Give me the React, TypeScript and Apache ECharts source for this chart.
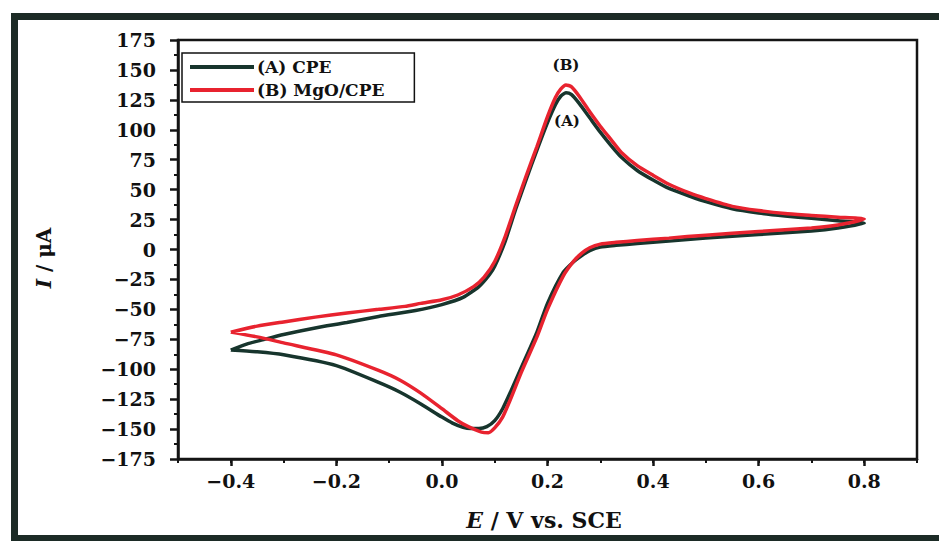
import React, { useEffect, useRef } from "react";
import * as echarts from "echarts";

// (A) CPE — cyclic voltammogram, forward scan then return scan
const cpePotential = [
  -0.4, -0.37, -0.34, -0.3, -0.24, -0.18, -0.12, -0.05, 0.0, 0.04, 0.07, 0.09, 0.1, 0.12, 0.14, 0.16, 0.18, 0.2,
  0.215, 0.225, 0.235, 0.245, 0.26, 0.28, 0.3, 0.32, 0.34, 0.37, 0.4, 0.43, 0.47, 0.5, 0.55, 0.6, 0.65, 0.7, 0.75, 0.8,
  0.75, 0.7, 0.6, 0.5, 0.43, 0.37, 0.33, 0.3, 0.28, 0.265, 0.25, 0.23, 0.2, 0.18, 0.15, 0.13, 0.115, 0.1, 0.085,
  0.07, 0.055, 0.04, 0.02, 0.0, -0.04, -0.08, -0.12, -0.2, -0.3, -0.35, -0.4,
];
const cpeCurrent = [
  -84, -79, -75.5, -71, -65.5, -61, -56, -51, -46, -40, -31, -21, -14, 7, 34, 59, 83, 106,
  121, 128, 131, 129.5, 122, 110, 98, 87, 77, 66, 58, 51, 44.5, 40, 34, 30.5, 28, 26, 24, 22,
  18, 15.5, 12.5, 9.5, 7, 5, 3.5, 2, -1, -5, -10, -19, -45, -69, -99, -119, -133, -143, -148,
  -149.5, -149.5, -148.5, -145, -140, -129, -119, -111, -97, -88, -85.5, -84,
];

// (B) MgO/CPE
const mgoPotential = [
  -0.4, -0.35, -0.3, -0.24, -0.18, -0.12, -0.07, -0.04, 0.0, 0.03, 0.06, 0.08, 0.1, 0.12, 0.14, 0.16, 0.18, 0.2,
  0.215, 0.225, 0.235, 0.245, 0.26, 0.28, 0.3, 0.32, 0.34, 0.37, 0.4, 0.43, 0.47, 0.5, 0.55, 0.6, 0.65, 0.7, 0.75, 0.8,
  0.75, 0.7, 0.6, 0.5, 0.43, 0.37, 0.33, 0.3, 0.28, 0.265, 0.25, 0.23, 0.2, 0.18, 0.15, 0.13, 0.115, 0.1, 0.088,
  0.075, 0.05, 0.03, 0.0, -0.04, -0.08, -0.12, -0.2, -0.3, -0.35, -0.4,
];
const mgoCurrent = [
  -69, -64, -60.5, -56.5, -53, -50, -47.5, -45, -42, -38, -31, -23, -10, 11, 37, 62, 86, 111,
  127, 134, 137.5, 136, 128, 115, 103, 92, 81, 70, 62, 54.5, 47, 42.5, 36, 32.5, 30, 28.5, 27, 25.5,
  20.5, 18, 15, 12, 9.5, 7.5, 6, 4.5, 1.5, -3, -9.5, -22, -50, -73, -103, -125, -140, -149, -153,
  -152.5, -148, -143, -133, -120, -109, -101, -88, -78, -73, -69,
];

const seriesNames = ["(A) CPE", "(B) MgO/CPE"];
const xTickLabels = [-0.4, -0.2, 0.0, 0.2, 0.4, 0.6, 0.8];
const peakLabelB = [0.235, 154];
const peakLabelA = [0.237, 107];

const DARK = "#17352d";
const RED = "#e8232f";
const AXIS = "#141414";
const FRAME = "#1c2b26";
const FONT = "DejaVu Serif";

const fmt = (v: number, d: number) => {
  const s = Math.abs(v).toFixed(d);
  return v < 0 ? "\u2212" + s : s;
};

export default function App() {
  const ref = useRef<HTMLDivElement>(null);
  useEffect(() => {
    if (!ref.current) return;
    const chart = echarts.init(ref.current, null, { renderer: "svg" });
    const cpeData = cpePotential.map((e, i) => [e, cpeCurrent[i]]);
    const mgoData = mgoPotential.map((e, i) => [e, mgoCurrent[i]]);
    const labelStyle = { fontFamily: FONT, fontWeight: "bold", fontSize: 19, color: "#111" };
    const frameLine = (x1: number, y1: number, x2: number, y2: number) => ({
      type: "line",
      silent: true,
      z: 100,
      shape: { x1, y1, x2, y2 },
      style: { stroke: FRAME, lineWidth: 7 },
    });
    chart.setOption({
      animation: false,
      backgroundColor: "#ffffff",
      grid: {
        left: 178,
        top: 40,
        right: 22,
        bottom: 82,
        show: true,
        borderColor: AXIS,
        borderWidth: 2.5,
      },
      legend: {
        left: 182,
        top: 53,
        orient: "vertical",
        data: seriesNames,
        icon: "rect",
        itemWidth: 64,
        itemHeight: 4,
        itemGap: 5,
        borderColor: "#111",
        borderWidth: 1.5,
        padding: [5, 30, 3, 8],
        textStyle: { fontFamily: FONT, fontWeight: "bold", fontSize: 17, color: "#111", lineHeight: 18, padding: [0, 0, 0, -2] },
      },
      xAxis: [
        {
          type: "value",
          min: -0.5,
          max: 0.9,
          interval: 0.1,
          splitLine: { show: false },
          axisLine: { show: true, onZero: false, lineStyle: { color: AXIS, width: 2.5 } },
          axisTick: { show: true, length: 7, lineStyle: { color: AXIS, width: 2.5 }, customValues: xTickLabels },
          axisLabel: {
            ...labelStyle,
            margin: 12,
            customValues: xTickLabels,
            formatter: (v: number) => fmt(v, 1),
          },
        },
        {
          type: "value",
          min: -0.5,
          max: 0.9,
          interval: 0.1,
          position: "bottom",
          splitLine: { show: false },
          axisLine: { show: false, onZero: false },
          axisTick: { show: true, length: 4, lineStyle: { color: AXIS, width: 2 } },
          axisLabel: { show: false },
        },
      ],
      yAxis: {
        type: "value",
        min: -175,
        max: 175,
        interval: 25,
        splitLine: { show: false },
        axisLine: { show: true, onZero: false, lineStyle: { color: AXIS, width: 2.5 } },
        axisTick: { show: true, length: 8, lineStyle: { color: AXIS, width: 2.5 } },
        minorTick: { show: true, splitNumber: 2, length: 4, lineStyle: { color: AXIS, width: 2 } },
        axisLabel: { ...labelStyle, margin: 22, formatter: (v: number) => fmt(v, 0) },
      },
      series: [
        {
          name: seriesNames[0],
          type: "line",
          data: cpeData,
          showSymbol: false,
          symbol: "none",
          smooth: 0.2,
          color: DARK,
          lineStyle: { color: DARK, width: 3.5 },
          z: 2,
          markPoint: {
            symbol: "circle",
            symbolSize: 0,
            label: { show: true, position: "inside", formatter: "(A)", fontFamily: FONT, fontWeight: "bold", fontSize: 15, color: "#111" },
            data: [{ coord: peakLabelA }],
          },
        },
        {
          name: seriesNames[1],
          type: "line",
          data: mgoData,
          showSymbol: false,
          symbol: "none",
          smooth: 0.2,
          color: RED,
          lineStyle: { color: RED, width: 3.5 },
          z: 3,
          markPoint: {
            symbol: "circle",
            symbolSize: 0,
            label: { show: true, position: "inside", formatter: "(B)", fontFamily: FONT, fontWeight: "bold", fontSize: 15, color: "#111" },
            data: [{ coord: peakLabelB }],
          },
        },
      ],
      graphic: [
        frameLine(14.5, 13, 14.5, 541),
        frameLine(11, 16.5, 939, 16.5),
        frameLine(11, 538.5, 939, 538.5),
        {
          type: "text",
          x: 44,
          y: 258,
          rotation: Math.PI / 2,
          style: {
            text: "{i|I}{n| / μA}",
            align: "center",
            verticalAlign: "middle",
            rich: {
              i: { fontFamily: FONT, fontStyle: "italic", fontWeight: "bold", fontSize: 20, fill: "#111" },
              n: { fontFamily: FONT, fontWeight: "bold", fontSize: 20, fill: "#111" },
            },
          },
        },
        {
          type: "text",
          x: 544,
          y: 520,
          style: {
            text: "{i|E}{n| / V vs. SCE}",
            align: "center",
            verticalAlign: "middle",
            rich: {
              i: { fontFamily: FONT, fontStyle: "italic", fontWeight: "bold", fontSize: 22, fill: "#111" },
              n: { fontFamily: FONT, fontWeight: "bold", fontSize: 22, fill: "#111" },
            },
          },
        },
      ],
    });
    return () => chart.dispose();
  }, []);
  return (
    <div
      ref={ref}
      style={{ position: "fixed", left: 0, top: 0, width: 939, height: 541, background: "#fff" }}
    />
  );
}
